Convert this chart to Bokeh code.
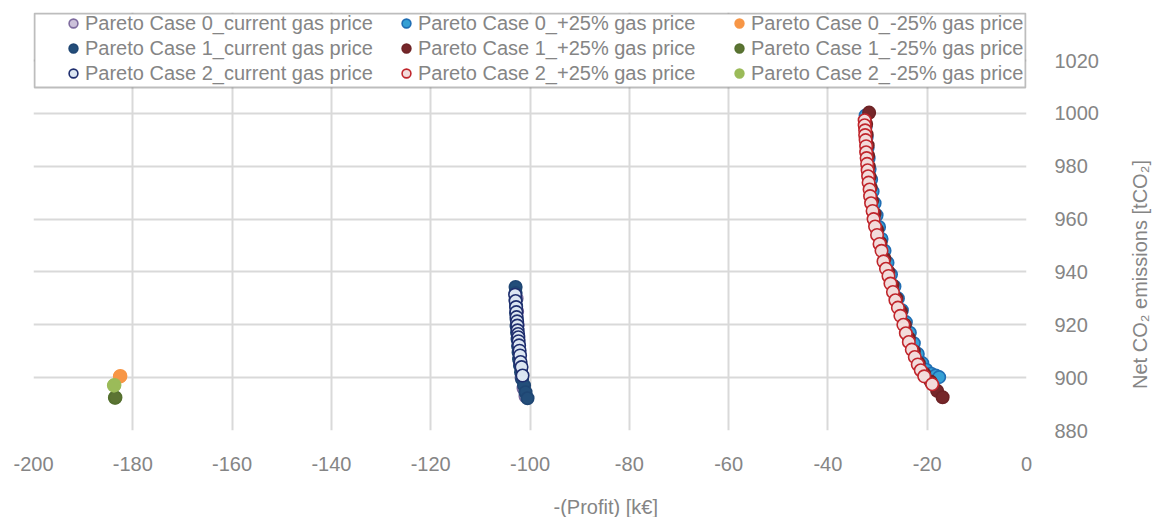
import math
from bokeh.plotting import figure
from bokeh.layouts import row
from bokeh.models import Range1d, FixedTicker, Legend, LegendItem, BoxAnnotation, Title, Label
from bokeh.embed import file_html
from bokeh.resources import INLINE

# ---------------- data ----------------
x_ticks = [-200, -180, -160, -140, -120, -100, -80, -60, -40, -20, 0]
y_ticks = [880, 900, 920, 940, 960, 980, 1000, 1020]

# Case 0
c0_cur_x = [-102.7, -102.6, -102.5, -102.4, -102.2, -102.0, -101.7, -101.3, -100.9]
c0_cur_y = [930.0, 925.0, 920.0, 915.0, 910.0, 905.0, 900.0, 896.0, 893.0]
c0_p25_x = [-32.4, -32.4, -32.2, -32.0, -31.8, -31.6, -31.3, -31.0, -30.6, -30.2, -29.7, -29.2,
            -28.6, -28.0, -27.3, -26.6, -25.9, -25.1, -24.3, -23.5, -22.7, -21.9, -21.0, -20.2,
            -19.2, -18.3, -17.6]
c0_p25_y = [999.2, 995.0, 991.0, 987.0, 983.0, 979.0, 975.0, 970.5, 966.0, 961.5, 957.0, 952.5,
            948.0, 943.5, 939.0, 934.5, 930.0, 925.5, 921.0, 917.0, 913.0, 909.0, 905.5, 903.0,
            901.5, 900.8, 900.2]
c0_m25_x = [-182.6, -182.5]
c0_m25_y = [900.4, 900.6]

# Case 1
c1_cur_x = [-102.9, -102.9, -102.9, -102.8, -102.8, -102.7, -102.7, -102.6, -102.5, -102.4,
            -102.3, -102.2, -102.0, -101.8, -101.6, -101.2, -100.9, -100.5]
c1_cur_y = [934.3, 932.0, 929.5, 927.0, 924.5, 922.0, 919.5, 917.0, 914.5, 912.0,
            909.5, 907.0, 904.5, 902.0, 899.5, 897.0, 894.5, 892.2]
c1_p25_x = [-31.7, -32.3, -32.2, -32.0, -31.9, -31.8, -31.6, -31.4, -31.1, -30.6, -30.1, -29.4,
            -28.6, -27.8, -27.0, -26.2, -25.3, -24.5, -23.7, -22.7, -21.7, -20.6, -19.3, -18.0,
            -16.9]
c1_p25_y = [1000.3, 996.0, 992.0, 988.0, 984.0, 980.0, 976.0, 972.0, 967.0, 962.0, 956.0, 951.0,
            945.0, 940.0, 935.0, 930.0, 925.0, 920.0, 915.0, 910.0, 905.5, 901.5, 898.5, 895.0,
            892.6]
c1_m25_x = [-183.6, -183.5]
c1_m25_y = [892.4, 892.5]

# Case 2
c2_cur_x = [-103.0, -102.9, -102.8, -102.75, -102.7, -102.6, -102.55, -102.5, -102.4, -102.35,
            -102.3, -102.2, -102.1, -102.0, -101.9, -101.7, -101.5]
c2_cur_y = [931.4, 929.0, 926.7, 924.8, 922.9, 921.3, 919.7, 917.9, 916.5, 915.3,
            913.8, 912.2, 910.2, 908.4, 905.9, 904.0, 900.8]
c2_p25_x = [-32.6, -32.6, -32.5, -32.5, -32.4, -32.3, -32.3, -32.2, -32.1, -32.0, -31.9, -31.8,
            -31.6, -31.5, -31.3, -31.0, -30.8, -30.5, -30.1, -29.6, -29.2, -28.8, -28.3, -27.8,
            -27.4, -26.9, -26.4, -25.9, -25.4, -24.8, -24.3, -23.7, -23.1, -22.5, -21.9, -21.3,
            -20.6, -19.0]
c2_p25_y = [997.4, 995.5, 993.6, 991.8, 989.9, 987.6, 985.3, 983.1, 980.9, 978.5, 976.2, 973.8,
            971.2, 968.7, 966.0, 963.1, 960.0, 957.2, 954.0, 950.6, 948.0, 944.0, 941.2, 938.5,
            935.6, 932.4, 929.3, 926.5, 923.4, 920.0, 916.8, 913.5, 910.6, 907.8, 905.0, 902.8,
            900.5, 897.5]
c2_m25_x = [-183.8, -183.7]
c2_m25_y = [897.0, 897.2]

labels = [
    "Pareto Case 0_current gas price", "Pareto Case 0_+25% gas price", "Pareto Case 0_-25% gas price",
    "Pareto Case 1_current gas price", "Pareto Case 1_+25% gas price", "Pareto Case 1_-25% gas price",
    "Pareto Case 2_current gas price", "Pareto Case 2_+25% gas price", "Pareto Case 2_-25% gas price",
]
xs = [c0_cur_x, c0_p25_x, c0_m25_x, c1_cur_x, c1_p25_x, c1_m25_x, c2_cur_x, c2_p25_x, c2_m25_x]
ys = [c0_cur_y, c0_p25_y, c0_m25_y, c1_cur_y, c1_p25_y, c1_m25_y, c2_cur_y, c2_p25_y, c2_m25_y]

x_title = "-(Profit) [k€]"
y_title = "Net CO₂ emissions [tCO₂]"

# ---------------- styles ----------------
fills = ["#ccc1da", "#35a0d4", "#f79646", "#234e7a", "#76272a", "#5c7433", "#dce6f2", "#f2dcdb", "#9bbb59"]
lines = ["#7e6b9e", "#1f6db3", "#f79646", "#1f4673", "#6e2326", "#55702f", "#1f2e6e", "#c0262c", "#9bbb59"]

FONT = "Liberation Sans"
GRAY = "#858585"

p = figure(
    frame_width=993, frame_height=418,
    min_border_left=33, min_border_top=12, min_border_right=93, min_border_bottom=80,
    x_range=Range1d(-200, 0), y_range=Range1d(880, 1038.2),
    y_axis_location="right",
    output_backend="svg", toolbar_location=None,
    background_fill_color="white", border_fill_color="white",
)
p.outline_line_color = None

renderers = []
for i in range(9):
    r = p.scatter(xs[i], ys[i], marker="circle", size=12.5,
                  fill_color=fills[i], line_color=lines[i], line_width=1.6)
    renderers.append(r)

# axes
for ax in (p.xaxis[0], p.yaxis[0]):
    ax.axis_line_color = None
    ax.major_tick_line_color = None
    ax.minor_tick_line_color = None
    ax.major_label_text_font = FONT
    ax.major_label_text_font_size = "20px"
    ax.major_label_text_color = GRAY
p.xaxis[0].ticker = FixedTicker(ticks=x_ticks)
p.yaxis[0].ticker = FixedTicker(ticks=y_ticks)
p.xaxis[0].major_label_overrides = {t: str(t) for t in x_ticks}
p.yaxis[0].major_label_overrides = {t: str(t) for t in y_ticks}
p.xaxis[0].major_label_standoff = 20
p.yaxis[0].major_label_standoff = 22

# spacer label under the x tick labels (pushes the x title down)
p.xaxis[0].axis_label = "\u00a0"
p.xaxis[0].axis_label_standoff = 0
p.xaxis[0].axis_label_text_font_size = "16px"

p.add_layout(Title(text=x_title, align="left", offset=520, standoff=0,
                   text_font=FONT, text_font_size="20px", text_color=GRAY,
                   text_font_style="normal"), "below")

p.xgrid[0].ticker = FixedTicker(ticks=x_ticks)
p.ygrid[0].ticker = FixedTicker(ticks=y_ticks)
for g in (p.xgrid[0], p.ygrid[0]):
    g.grid_line_color = "#d9d9d9"
    g.grid_line_width = 2

# legend box
box = BoxAnnotation(left=1, right=992, top=417, bottom=343,
                    left_units="screen", right_units="screen", top_units="screen", bottom_units="screen",
                    fill_color="white", fill_alpha=1.0, line_color="#262626", line_width=2, level="annotation")
p.add_layout(box)

order = [0, 3, 6, 1, 4, 7, 2, 5, 8]
items = [LegendItem(label=labels[i], renderers=[renderers[i]]) for i in order]
legend = Legend(items=items, location=(29, 345), orientation="vertical", ncols=3,
                padding=0, margin=0, spacing=1,
                glyph_width=22, glyph_height=24, label_standoff=1, label_width=309,
                label_text_font=FONT, label_text_font_size="20px", label_text_color=GRAY,
                border_line_alpha=0, background_fill_alpha=0)
p.add_layout(legend)

# narrow strip holding the rotated y-axis title (reads bottom to top)
p2 = figure(width=39, height=517, min_border=0, x_axis_location=None, y_axis_location=None,
            x_range=Range1d(0, 1), y_range=Range1d(0, 1),
            output_backend="svg", toolbar_location=None,
            background_fill_color="white", border_fill_color="white")
p2.outline_line_color = None
p2.grid.visible = False
p2.add_layout(Label(x=20, y=156, x_units="screen", y_units="screen", angle=math.pi / 2,
                    text=y_title, text_align="center", text_baseline="middle",
                    text_font=FONT, text_font_size="20px", text_color=GRAY))

layout = row(p, p2)
open("out.html", "w").write(file_html(layout, INLINE))
